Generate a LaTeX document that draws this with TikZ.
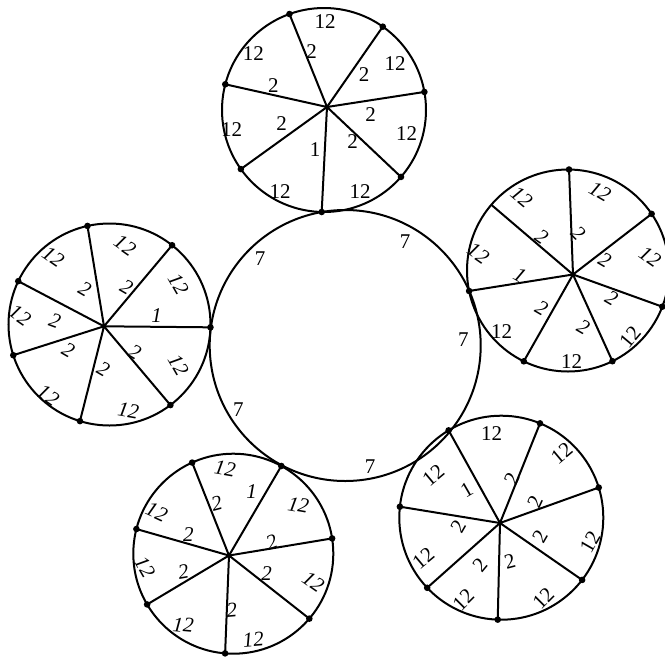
\documentclass[tikz,border=0pt]{standalone}
\usepackage{fontspec}
\setmainfont{Liberation Serif}
\usetikzlibrary{calc}
\tikzset{
  rim/.style={line width=2pt},
  spoke/.style={line width=2pt},
  lab/.style={font=\fontsize{21}{21}\selectfont, inner sep=0pt},
  ilab/.style={font=\fontsize{21}{21}\selectfont\itshape, inner sep=0pt},
  dotr/.style={fill=black}
}
\newcommand{\wheel}[6]{% prefix, center, radius, hub, angles, dotted indices
  \coordinate (#1c) at #2;
  \coordinate (#1h) at #4;
  \draw[rim] (#1c) circle[radius=#3pt];
  \foreach \a [count=\i] in {#5} \coordinate (#1\i) at ($(#1c)+(\a:#3)$);
  \foreach \i in {1,...,7} \draw[spoke] (#1h) -- (#1\i);
  \foreach \i in {#6} \fill[dotr] (#1\i) circle[radius=3.3pt];
  \fill[dotr] (#1h) circle[radius=2.5pt];
}
\begin{document}
\begin{tikzpicture}[x=1pt,y=-1pt]
\useasboundingbox (0,0) rectangle (665,657);
% central circle
\coordinate (cc) at (345.2,345.5);
\draw[rim] (cc) circle[radius=135.5pt];
% wheels
\wheel{t}{(324,110)}{102}{(327,107)}{-109.8,-54.8,-10.2,41.0,91.3,144.6,194.6}{1,...,7}
\wheel{r}{(568,270.5)}{101}{(573,274.5)}{-89.4,-34.1,21.0,63.9,115.96,168.3,220.6}{1,...,6}
\wheel{d}{(501.3,517.7)}{102}{(500,523)}{-121.1,-67.7,-17.2,37.6,92.0,136.6,186.2}{1,...,7}
\wheel{e}{(233.3,553.7)}{100}{(229,555.5)}{-114.3,-61.3,-8.8,40.5,94.7,149.5,194.3}{1,...,7}
\wheel{l}{(109.5,324.5)}{101}{(104,326.3)}{-102.6,-51.7,1.6,52.9,107.0,162.3,205.4}{1,...,7}
% labels: top wheel
\foreach \x/\y/\t/\r/\s [count=\k] in {
 325/21.7/12/0/lab, 253.3/53.3/12/0/lab, 311.7/51.7/2/0/lab, 395/63.3/12/0/lab,
 364/75/2/0/lab, 273.3/86/2/0/lab, 370.7/115/2/0/lab, 231.7/130/12/0/lab,
 281.7/123.3/2/0/lab, 406.7/133.3/12/0/lab, 352.7/141.7/2/0/lab, 315/150/1/0/lab,
 280/191.7/12/0/lab, 360/191.7/12/0/lab}
 \node[\s,rotate=\r] (tl\k) at (\x,\y) {\t};
% right wheel
\foreach \x/\y/\t/\r/\s [count=\k] in {
 600/191.7/12/-30/ilab, 521.7/196.7/12/-40/ilab, 541.7/236.7/2/-35/ilab,
 578.3/233.3/2/-45/ilab, 650/256.7/12/-35/ilab, 605/260/2/-30/ilab,
 520/275/1/-30/ilab, 478.3/253.3/12/-35/ilab, 541.7/308.3/2/-30/ilab,
 611.7/298.3/2/-30/ilab, 583.3/326.7/2/-30/ilab, 501.7/331.7/12/0/lab,
 630/336.7/12/50/lab, 571.7/361.7/12/0/lab}
 \node[\s,rotate=\r] (rl\k) at (\x,\y) {\t};
% lower right wheel
\foreach \x/\y/\t/\r/\s [count=\k] in {
 491.7/433.3/12/0/lab, 433.3/475/12/40/lab, 466.7/490/1/30/lab,
 511.7/478.3/2/65/lab, 561.7/453.3/12/40/lab, 535/501.7/2/65/lab,
 458.3/526.7/2/60/lab, 590/541.7/12/60/lab, 540/536.7/2/60/lab,
 423.3/558.3/12/40/lab, 480/565/2/50/lab, 510/561.7/2/15/lab,
 463.3/600/12/45/lab, 543.3/598.3/12/45/lab}
 \node[\s,rotate=\r] (dl\k) at (\x,\y) {\t};
% lower left wheel
\foreach \x/\y/\t/\r/\s [count=\k] in {
 225/468.3/12/-10/ilab, 251.7/491.7/1/0/ilab, 298.3/505/12/-10/ilab,
 216.7/503.3/2/15/ilab, 156.7/511.7/12/-25/ilab, 188.3/535/2/0/ilab,
 271.7/541.7/2/20/ilab, 145/566.7/12/-60/ilab, 183.3/571.7/2/10/ilab,
 266.7/573.3/2/0/ilab, 313.3/581.7/12/-35/ilab, 231.7/610/2/5/ilab,
 183.3/625/12/-5/ilab, 253.3/640/12/5/ilab}
 \node[\s,rotate=\r] (el\k) at (\x,\y) {\t};
% left wheel
\foreach \x/\y/\t/\r/\s [count=\k] in {
 125/245.3/12/-35/ilab, 53.3/257/12/-35/ilab, 178.3/283.7/12/-60/ilab,
 85/288.7/2/-30/ilab, 126.7/287/2/-30/ilab, 156.7/315.3/1/0/ilab,
 20/315.3/12/-35/ilab, 55/320.3/2/-20/ilab, 68.3/350.3/2/-30/ilab,
 135/352/2/-30/ilab, 178.3/365.3/12/-60/ilab, 103.3/368.7/2/-30/ilab,
 48.3/395.3/12/-35/ilab, 128.3/410.3/12/-10/ilab}
 \node[\s,rotate=\r] (ll\k) at (\x,\y) {\t};
% central labels
\foreach \x/\y [count=\k] in {405/241.7, 260/258.3, 463.3/340, 238.3/410, 370/466.7}
 \node[lab] (cl\k) at (\x,\y) {7};
\end{tikzpicture}
\end{document}
